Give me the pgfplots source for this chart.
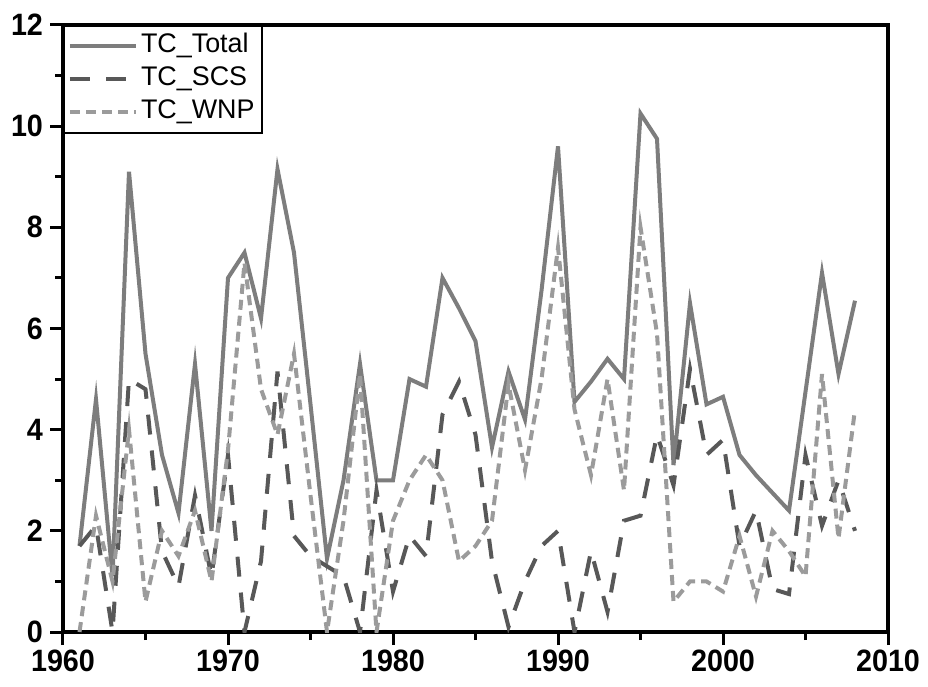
\documentclass[border=0pt]{standalone}
\usepackage{fontspec}
\setmainfont{Liberation Sans}
\newfontfamily\tickfont[FakeStretch=0.93]{Liberation Sans}
\usepackage{pgfplots}
\usepackage{pgfplotstable}
\pgfplotsset{compat=1.18}
\definecolor{ctot}{RGB}{125,125,125}
\definecolor{cscs}{RGB}{88,88,88}
\definecolor{cwnp}{RGB}{155,155,155}
\pgfplotstableread{
year total scs wnp
1961 1.7 1.7 0
1962 4.6 2.1 2.3
1963 1.1 0 1.0
1964 9.1 5.0 4.0
1965 5.5 4.8 0.6
1966 3.5 1.6 2.0
1967 2.35 0.9 1.5
1968 5.3 2.7 2.4
1969 2.0 1.1 1.0
1970 7.0 3.5 3.6
1971 7.5 0 7.3
1972 6.2 1.4 4.8
1973 9.15 5.15 3.9
1974 7.5 1.9 5.5
1975 4.5 1.5 2.7
1976 1.45 1.3 0
1977 3.0 1.1 2.2
1978 5.3 0 5.1
1979 3.0 2.8 0
1980 3.0 0.8 2.2
1981 5.0 1.9 3.0
1982 4.85 1.5 3.5
1983 7.0 4.3 3.0
1984 6.4 4.95 1.4
1985 5.75 3.9 1.7
1986 3.65 1.4 2.2
1987 5.15 0.1 4.9
1988 4.2 1.0 3.2
1989 6.75 1.7 5.0
1990 9.6 2.0 7.6
1991 4.55 0 4.4
1992 4.95 1.6 3.1
1993 5.4 0.4 5.0
1994 5.0 2.2 2.8
1995 10.25 2.3 8.0
1996 9.75 3.9 5.9
1997 3.3 2.9 0.6
1998 6.5 5.2 1.0
1999 4.5 3.5 1.0
2000 4.65 3.8 0.8
2001 3.5 1.7 1.9
2002 3.1 2.4 0.7
2003 2.75 0.85 2.0
2004 2.4 0.75 1.6
2005 4.75 3.5 1.1
2006 7.1 2.1 5.1
2007 5.1 3.0 1.85
2008 6.55 2.0 4.4
}\datatable
\begin{document}
\begin{tikzpicture}
\begin{axis}[name=ax,
  scale only axis, width=412.5bp, height=303.5bp,
  xmin=1960, xmax=2010, ymin=0, ymax=12,
  xtick={1960,1970,...,2010}, ytick={0,2,...,12},
  minor x tick num=1, minor y tick num=1,
  xtick pos=bottom, ytick pos=left, tick align=outside,
  major tick length=6.5bp, minor tick length=4bp,
  every tick/.style={black, line width=1.5bp},
  axis line style={line width=1.75bp},
  /pgf/number format/1000 sep={},
  /pgf/number format/assume math mode=true,
  ticklabel style={font=\tickfont\bfseries\fontsize{15.5}{16}\selectfont},
  xticklabel style={yshift=1bp},
  legend style={at={(0,1)}, anchor=north west, draw=black, line width=1bp,
    font=\fontsize{13.5}{15}\selectfont, inner xsep=2bp, inner ysep=2bp,
    nodes={inner sep=1.5bp, text height=10bp, text depth=3.5bp},
    cells={anchor=west}},
  legend image code/.code={\draw[#1] (0bp,0bp) -- (33bp,0bp);},
]
\addplot[ctot, line width=2bp] table[x=year, y=total] {\datatable};
\addlegendentry{TC\_Total}
\addplot[cscs, line width=2bp, dash pattern=on 10bp off 8bp] table[x=year, y=scs] {\datatable};
\addlegendentry{TC\_SCS}
\addplot[cwnp, line width=2bp, dash pattern=on 5bp off 3bp] table[x=year, y=wnp] {\datatable};
\addlegendentry{TC\_WNP}
\end{axis}
\pgfresetboundingbox
\path[use as bounding box] ([shift={(-31.5bp,-27bp)}]ax.south west) rectangle ([shift={(20bp,12.5bp)}]ax.north east);
\end{tikzpicture}
\end{document}
